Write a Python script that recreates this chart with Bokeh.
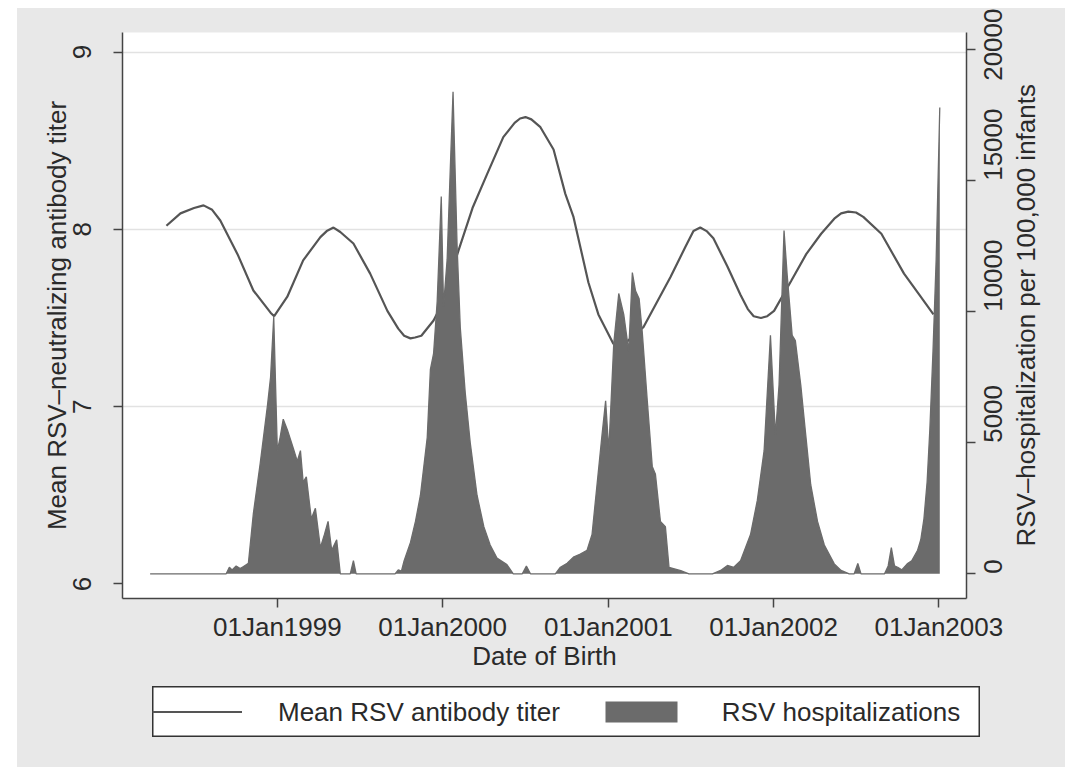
import math
import pandas as pd
from bokeh.plotting import figure
from bokeh.layouts import row, column
from bokeh.models import (Range1d, LinearAxis, FixedTicker, DatetimeTickFormatter,
                          Legend, LegendItem, Spacer)
from bokeh.embed import file_html
from bokeh.resources import INLINE

# ---------------- data ----------------
titer_dates = [
    "1998-05-01", "1998-06-01", "1998-07-01", "1998-07-22", "1998-08-10", "1998-08-28",
    "1998-10-05", "1998-11-09", "1998-12-17", "1998-12-25", "1999-01-23", "1999-02-27",
    "1999-04-06", "1999-04-20", "1999-05-05", "1999-05-20", "1999-06-18", "1999-07-25",
    "1999-09-01", "1999-09-25", "1999-10-08", "1999-10-22", "1999-11-01", "1999-11-15",
    "1999-12-12", "1999-12-27", "2000-01-14", "2000-02-05", "2000-03-07", "2000-04-08",
    "2000-05-14", "2000-06-08", "2000-06-20", "2000-07-02", "2000-07-15", "2000-08-04",
    "2000-09-02", "2000-09-28", "2000-10-16", "2000-11-18", "2000-12-10", "2001-01-12",
    "2001-01-26", "2001-02-08", "2001-03-20", "2001-05-18", "2001-06-20", "2001-07-08",
    "2001-07-23", "2001-08-06", "2001-08-21", "2001-09-21", "2001-10-20", "2001-11-05",
    "2001-11-18", "2001-12-04", "2001-12-18", "2002-01-02", "2002-02-09", "2002-03-14",
    "2002-04-16", "2002-05-15", "2002-05-30", "2002-06-15", "2002-07-02", "2002-07-18",
    "2002-08-27", "2002-10-16", "2002-11-19", "2002-12-20",
]
titer_values = [
    8.02, 8.09, 8.12, 8.135, 8.11, 8.05,
    7.86, 7.655, 7.53, 7.51, 7.62, 7.825,
    7.956, 7.99, 8.01, 7.985, 7.92, 7.75,
    7.54, 7.44, 7.40, 7.385, 7.39, 7.40,
    7.486, 7.56, 7.70, 7.88, 8.12, 8.31,
    8.52, 8.60, 8.625, 8.633, 8.62, 8.576,
    8.45, 8.20, 8.07, 7.70, 7.52, 7.355,
    7.345, 7.36, 7.45, 7.73, 7.90, 7.99,
    8.01, 7.99, 7.95, 7.79, 7.63, 7.55,
    7.51, 7.50, 7.51, 7.54, 7.71, 7.86,
    7.975, 8.06, 8.09, 8.10, 8.095, 8.07,
    7.975, 7.75, 7.63, 7.52,
]

hosp_dates = [
    "1998-03-26", "1998-09-10", "1998-09-17", "1998-09-23", "1998-10-02", "1998-10-11",
    "1998-10-20", "1998-10-29", "1998-11-09", "1998-11-24", "1998-12-10", "1998-12-17",
    "1998-12-24", "1999-01-01", "1999-01-07", "1999-01-14", "1999-01-23", "1999-02-05",
    "1999-02-14", "1999-02-21", "1999-02-27", "1999-03-06", "1999-03-17", "1999-03-26",
    "1999-04-06", "1999-04-15", "1999-04-23", "1999-05-01", "1999-05-12", "1999-05-20",
    "1999-06-11", "1999-06-18", "1999-06-24",
    "1999-09-18", "1999-09-25", "1999-10-02", "1999-10-08", "1999-10-22", "1999-11-02",
    "1999-11-13", "1999-11-28", "1999-12-05", "1999-12-12", "1999-12-20", "1999-12-29",
    "2000-01-03", "2000-01-11", "2000-01-18", "2000-01-24", "2000-02-02", "2000-02-09",
    "2000-02-20", "2000-03-02", "2000-03-17", "2000-04-01", "2000-04-15", "2000-04-30",
    "2000-05-22", "2000-06-05", "2000-06-25", "2000-07-04", "2000-07-13",
    "2000-09-06", "2000-09-17", "2000-10-02", "2000-10-17", "2000-10-31", "2000-11-15",
    "2000-11-26", "2000-12-07", "2000-12-18", "2000-12-26", "2001-01-02", "2001-01-13",
    "2001-01-24", "2001-02-04", "2001-02-15", "2001-02-23", "2001-03-02", "2001-03-10",
    "2001-03-17", "2001-03-28", "2001-04-08", "2001-04-15", "2001-04-26", "2001-05-07",
    "2001-05-15", "2001-06-10", "2001-06-28",
    "2001-08-19", "2001-09-06", "2001-09-21", "2001-10-05", "2001-10-20", "2001-11-11",
    "2001-11-26", "2001-12-11", "2001-12-25", "2002-01-05", "2002-01-13", "2002-01-24",
    "2002-01-31", "2002-02-11", "2002-02-18", "2002-03-02", "2002-03-13", "2002-03-24",
    "2002-04-08", "2002-04-23", "2002-05-15", "2002-05-30", "2002-06-17", "2002-06-28",
    "2002-07-06", "2002-07-13",
    "2002-09-03", "2002-09-11", "2002-09-18", "2002-09-25", "2002-10-02", "2002-10-11",
    "2002-10-23", "2002-11-02", "2002-11-15", "2002-11-22", "2002-11-29", "2002-12-06",
    "2002-12-12", "2002-12-19", "2002-12-26", "2003-01-03",
]
hosp_values = [
    0, 0, 250, 150, 300, 200,
    300, 400, 2300, 4200, 6400, 7500,
    9800, 4700, 5200, 5900, 5500, 4800,
    4300, 4700, 3500, 3700, 2100, 2500,
    1000, 1500, 2000, 900, 1300, 0,
    0, 500, 0,
    0, 150, 100, 500, 1200, 2000,
    3000, 5200, 7800, 8400, 10400, 14400,
    10200, 12000, 15500, 18400, 12500, 9400,
    6900, 5000, 3000, 1800, 1100, 600,
    350, 0, 0, 300, 0,
    0, 250, 400, 650, 750, 900,
    1500, 3400, 5300, 6600, 4700, 8800,
    10700, 9900, 8500, 11500, 10800, 10500,
    9200, 6600, 4100, 3800, 2000, 1800,
    250, 120, 0,
    0, 130, 320, 250, 500, 1500,
    2800, 4700, 9100, 5300, 7200, 13100,
    11400, 9100, 8900, 7200, 5300, 3400,
    2000, 1100, 380, 130, 0, 0,
    400, 0,
    0, 300, 1000, 300, 250, 150,
    380, 500, 900, 1300, 2100, 3500,
    5500, 8500, 12000, 17800,
]

x_tick_dates = ["1999-01-01", "2000-01-01", "2001-01-01", "2002-01-01", "2003-01-01"]
left_ticks = [6, 7, 8, 9]
grid_ticks = [7, 8, 9]
right_ticks = [0, 5000, 10000, 15000, 20000]

legend_labels = ["Mean RSV antibody titer", "RSV hospitalizations"]
x_title = "Date of Birth"
left_title = "Mean RSV\u2013neutralizing antibody titer"
right_title = "RSV\u2013hospitalization per 100,000 infants"

# ---------------- styling ----------------
FONT = "Liberation Sans"
FS = "26px"
BG = "#e8e8e8"
TXT = "#2a2a2a"
AX = "#444444"
LINE_C = "#555555"
AREA_C = "#6b6b6b"

R_LO, R_HI = -942, 20660          # right-axis range
R_TITLE_AT = 6806                 # anchor that visually centres the right title

td = pd.to_datetime(titer_dates)
hd = pd.to_datetime(hosp_dates)

p = figure(width=1048, height=678, x_axis_type="datetime",
           output_backend="svg", toolbar_location=None,
           x_range=Range1d(pd.Timestamp("1998-01-24"), pd.Timestamp("2003-03-03")),
           y_range=Range1d(5.918, 9.110),
           min_border_left=105, min_border_right=99,
           min_border_top=24, min_border_bottom=88)
p.extra_y_ranges = {"hosp": Range1d(R_LO, R_HI)}

p.background_fill_color = "white"
p.border_fill_color = BG
p.outline_line_color = None

# grid
p.xgrid.visible = False
p.ygrid.ticker = FixedTicker(ticks=grid_ticks)
p.ygrid.grid_line_color = "#e2e2e2"
p.ygrid.grid_line_width = 1.5


def style_axis(ax):
    ax.axis_line_color = AX
    ax.axis_line_width = 1.5
    ax.major_tick_line_color = AX
    ax.major_tick_line_width = 1.5
    ax.major_tick_out = 9
    ax.major_tick_in = 0
    ax.minor_tick_line_color = None
    ax.major_label_text_font = FONT
    ax.major_label_text_font_size = FS
    ax.major_label_text_color = TXT
    ax.axis_label_text_font = FONT
    ax.axis_label_text_font_size = FS
    ax.axis_label_text_font_style = "normal"
    ax.axis_label_text_color = TXT


# x axis
xax = p.xaxis[0]
style_axis(xax)
xax.ticker = FixedTicker(ticks=[int(pd.Timestamp(d).value // 10**6) for d in x_tick_dates])
fmt = "%d%b%Y"
xax.formatter = DatetimeTickFormatter(years=fmt, months=fmt, days=fmt, hours=fmt,
                                      minutes=fmt, seconds=fmt, milliseconds=fmt,
                                      microseconds=fmt, minsec=fmt, hourmin=fmt)
xax.axis_label = x_title
xax.major_label_standoff = 4
xax.axis_label_standoff = -4

# left axis
yax = p.yaxis[0]
style_axis(yax)
yax.ticker = FixedTicker(ticks=left_ticks)
yax.major_label_orientation = "vertical"
yax.axis_label = left_title
yax.major_label_standoff = 22
yax.axis_label_standoff = -1

# right axis (labels read bottom-to-top as in the reference)
rax = LinearAxis(y_range_name="hosp", ticker=FixedTicker(ticks=right_ticks))
style_axis(rax)
rax.major_label_orientation = math.pi / 2
rax.major_label_text_align = "center"
rax.major_label_text_baseline = "top"
rax.major_label_standoff = 18
p.add_layout(rax, "right")

# right-axis title, drawn as a bottom-to-top label of a bare axis
rtitle = LinearAxis(y_range_name="hosp", ticker=FixedTicker(ticks=[R_TITLE_AT]),
                    major_label_overrides={R_TITLE_AT: right_title})
style_axis(rtitle)
rtitle.axis_line_color = None
rtitle.major_tick_line_color = None
rtitle.major_tick_out = 0
rtitle.major_label_orientation = math.pi / 2
rtitle.major_label_text_align = "center"
rtitle.major_label_text_baseline = "top"
rtitle.major_label_standoff = 12
p.add_layout(rtitle, "right")

# renderers: line first, area drawn on top
p.line(td, titer_values, line_color=LINE_C, line_width=2.2)
p.varea(x=hd, y1=0, y2=hosp_values, fill_color=AREA_C, y_range_name="hosp")
p.line(hd, hosp_values, line_color=AREA_C, line_width=1.3, y_range_name="hosp")

# ---------------- legend box (separate small figure below the plot) ----------------
lg = figure(width=828, height=51, output_backend="svg", toolbar_location=None,
            x_range=Range1d(0, 1), y_range=Range1d(0, 1),
            x_axis_location=None, y_axis_location=None,
            min_border=0, min_border_left=0, min_border_right=0,
            min_border_top=0, min_border_bottom=0)
lg.grid.visible = False
lg.background_fill_color = "white"
lg.border_fill_color = "white"
lg.outline_line_color = "#333333"
lg.outline_line_width = 2
nan = float("nan")
proxy_line = lg.line(x=[nan], y=[nan], line_color=LINE_C, line_width=2.2)
proxy_area = lg.varea(x=[nan], y1=[nan], y2=[nan], fill_color=AREA_C)

legend = Legend(items=[LegendItem(label=legend_labels[0], renderers=[proxy_line]),
                       LegendItem(label=legend_labels[1], renderers=[proxy_area])],
                orientation="horizontal", location="left",
                glyph_width=90, glyph_height=26, label_standoff=36, spacing=36,
                padding=10, margin=0,
                label_text_font=FONT, label_text_font_size=FS, label_text_color=TXT,
                background_fill_alpha=0.0, border_line_color=None)
lg.add_layout(legend, "center")

inner = column(p, row(Spacer(width=135), lg), Spacer(height=30),
               styles={"background-color": BG})
layout = row(Spacer(width=17), column(Spacer(height=8), inner))
open("out.html", "w").write(file_html(layout, INLINE))
